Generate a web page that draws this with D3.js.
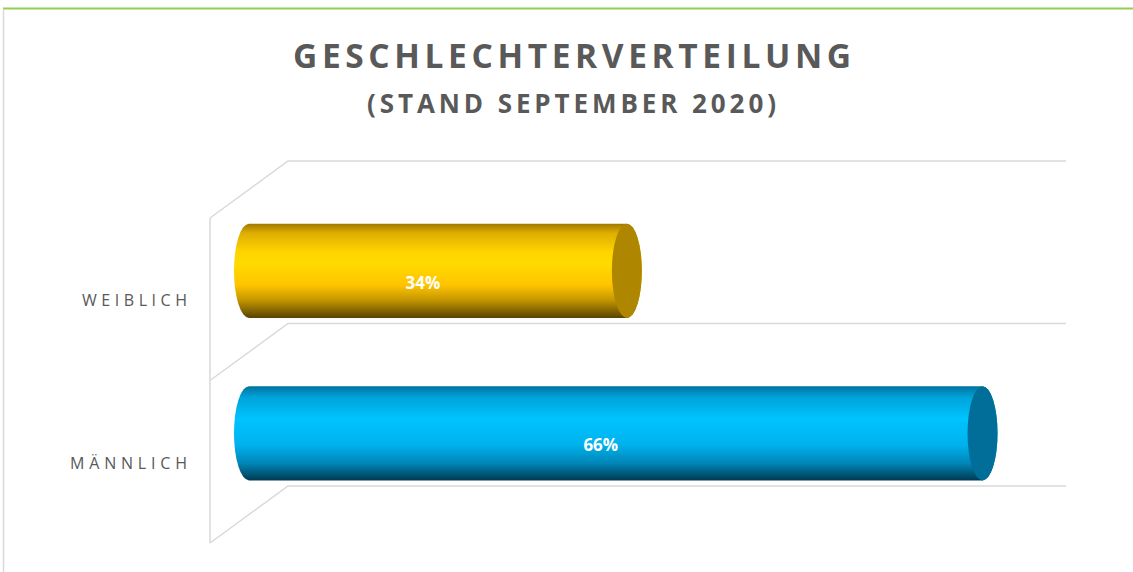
<!DOCTYPE html>
<html>
<head>
<meta charset="utf-8">
<script src="https://cdn.jsdelivr.net/npm/d3@7"></script>
<style>
  body { margin: 0; background: #fff; }
  svg { display: block; }
  text { font-family: "Open Sans", sans-serif; }
</style>
</head>
<body>
<script>
/*** data ***/
const categories = ["WEIBLICH", "MÄNNLICH"];
const values = [0.34, 0.66];
const labels = ["34%", "66%"];
const axisMax = 0.7;

/*** global variables ***/
const width = 1133, height = 572;
const depthX = 78, depthY = -57;   // 3d offset of the back wall

const svg = d3.select("body").append("svg")
  .attr("width", width)
  .attr("height", height);

const defs = svg.append("defs");

// frame of the chart area
svg.append("line")
  .attr("x1", 3).attr("x2", width).attr("y1", 8.5).attr("y2", 8.5)
  .attr("stroke", "#92D050").attr("stroke-width", 2);
svg.append("line")
  .attr("x1", 3.5).attr("x2", 3.5).attr("y1", 9.5).attr("y2", height)
  .attr("stroke", "#D9D9D9").attr("stroke-width", 1.5);

// titles
svg.append("text")
  .attr("x", 293).attr("y", 68)
  .attr("textLength", 558).attr("lengthAdjust", "spacing")
  .attr("font-size", 33.5).attr("font-weight", 700).attr("fill", "#595959")
  .text("GESCHLECHTERVERTEILUNG");
svg.append("text")
  .attr("x", 367).attr("y", 113)
  .attr("textLength", 409).attr("lengthAdjust", "spacing")
  .attr("font-size", 26).attr("font-weight", 700).attr("fill", "#595959")
  .text("(STAND SEPTEMBER 2020)");

/*** scales (front plane) ***/
const x = d3.scaleLinear().domain([0, axisMax]).range([210, 988]);
const y = d3.scaleBand().domain(categories).range([218, 543]).paddingInner(0).paddingOuter(0);

// gridlines: back wall + side wall + floor diagonals
const grid = svg.append("g").attr("stroke", "#D9D9D9").attr("stroke-width", 1.5).attr("fill", "none");
const levels = [y.range()[0], ...categories.map(c => y(c) + y.bandwidth())];
levels.forEach(ly => {
  grid.append("path")
    .attr("d", `M${x(0)},${ly} L${x(0) + depthX},${ly + depthY} L${x(axisMax) + depthX},${ly + depthY}`);
});
grid.append("line")
  .attr("x1", x(0)).attr("x2", x(0))
  .attr("y1", levels[0]).attr("y2", levels[levels.length - 1]);

// category labels
const catWidths = { "WEIBLICH": 105, "MÄNNLICH": 117 };
svg.append("g").selectAll("text")
  .data(categories)
  .join("text")
  .attr("x", d => 187 - catWidths[d])
  .attr("y", d => y(d) + y.bandwidth() / 2 + 7)
  .attr("textLength", d => catWidths[d]).attr("lengthAdjust", "spacing")
  .attr("font-size", 16).attr("fill", "#595959")
  .text(d => d);

/*** cylinders ***/
const styles = [
  { stops: [[0, "#A07800"], [0.1, "#DDAE00"], [0.3, "#FFD400"], [0.42, "#FFDA00"], [0.65, "#FFC400"], [0.8, "#C99A00"], [1, "#5A4300"]], cap: "#AE8600" },
  { stops: [[0, "#00729E"], [0.12, "#00A3DA"], [0.35, "#00C3FF"], [0.62, "#00B2EE"], [0.82, "#0085B6"], [1, "#003A52"]], cap: "#006E98" }
];
styles.forEach((s, i) => {
  const g = defs.append("linearGradient").attr("id", "grad" + i)
    .attr("x1", 0).attr("y1", 0).attr("x2", 0).attr("y2", 1);
  s.stops.forEach(([o, c]) => g.append("stop").attr("offset", o).attr("stop-color", c));
});

const barRatio = 0.58;
const rx = 15;
const bars = svg.append("g");
categories.forEach((c, i) => {
  const cy = y(c) + y.bandwidth() / 2 + depthY / 2;
  const ry = y.bandwidth() * barRatio / 2;
  const x0 = x(0) + depthX / 2;
  const x1 = x(values[i]) + depthX / 2;
  const top = cy - ry, bot = cy + ry;

  bars.append("path")
    .attr("d", `M${x0},${top} L${x1},${top} A${rx},${ry} 0 0 1 ${x1},${bot} L${x0},${bot} A${rx},${ry} 0 0 1 ${x0},${top} Z`)
    .attr("fill", `url(#grad${i})`);
  bars.append("ellipse")
    .attr("cx", x1).attr("cy", cy).attr("rx", rx).attr("ry", ry)
    .attr("fill", styles[i].cap);

  bars.append("text")
    .attr("x", (x0 + x1) / 2 - rx)
    .attr("y", cy + 18)
    .attr("text-anchor", "middle")
    .attr("font-size", 17).attr("font-weight", 700).attr("fill", "#fff")
    .text(labels[i]);
});
</script>
</body>
</html>
